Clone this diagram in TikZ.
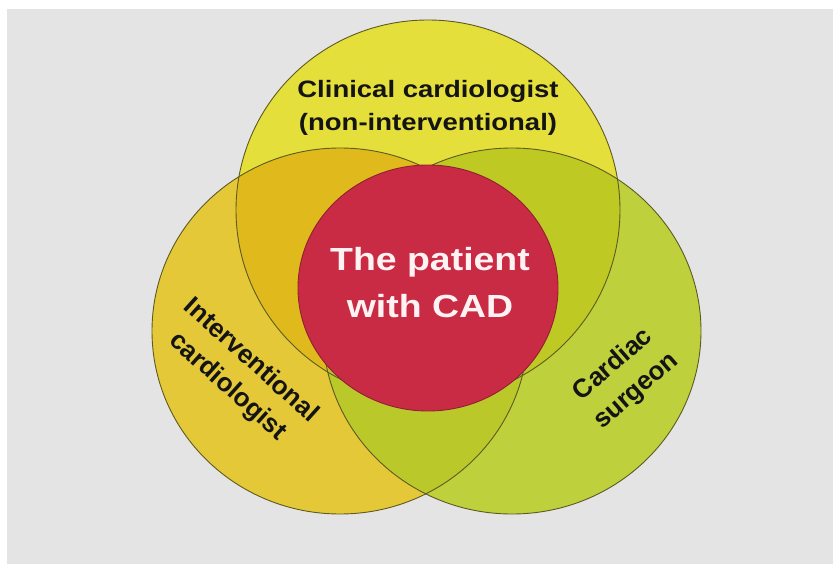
\documentclass[tikz,border=0pt]{standalone}
\usepackage{fontspec}
\setmainfont{Liberation Sans}
\usetikzlibrary{shapes.geometric}

\definecolor{bgGray}{HTML}{E4E4E4}
\definecolor{topYellow}{HTML}{E5DF3C}
\definecolor{leftGold}{HTML}{E4C837}
\definecolor{rightGreen}{HTML}{BED03C}
\definecolor{tlOverlap}{HTML}{E0BA1C}
\definecolor{trOverlap}{HTML}{BEC924}
\definecolor{botOverlap}{HTML}{BAC82A}
\definecolor{patientRed}{HTML}{C92A44}
\definecolor{rimOlive}{HTML}{5E5A22}
\definecolor{rimRed}{HTML}{8E2232}

\tikzset{
  rim/.style={draw=rimOlive, line width=0.9pt},
  label/.style={text=black!92, font=\bfseries, align=center, inner sep=0pt},
}

% ellipse paths shared by fills, clips and outlines
\def\topEll{(428,210) ellipse [x radius=192, y radius=190]}
\def\leftEll{(340,331) ellipse [x radius=188, y radius=183]}
\def\rightEll{(512,331) ellipse [x radius=189, y radius=183]}

\begin{document}
\begin{tikzpicture}[x=1pt,y=-1pt]
  \useasboundingbox (0,0) rectangle (833,564);
  \fill[white] (0,0) rectangle (833,564);
  \fill[bgGray] (7,9) rectangle (833,564);

  % the three specialist fields
  \fill[leftGold] \leftEll;
  \fill[rightGreen] \rightEll;
  \fill[topYellow] \topEll;

  % overlaps
  \begin{scope}
    \clip \topEll;
    \fill[tlOverlap] \leftEll;
  \end{scope}
  \begin{scope}
    \clip \topEll;
    \fill[trOverlap] \rightEll;
  \end{scope}
  \begin{scope}
    \clip \leftEll;
    \fill[botOverlap] \rightEll;
  \end{scope}
  \begin{scope}
    \clip \leftEll;
    \clip \rightEll;
    \fill[botOverlap] \topEll;
  \end{scope}

  % outlines
  \draw[rim] \leftEll;
  \draw[rim] \rightEll;
  \draw[rim] \topEll;

  % the patient at the centre
  \node[ellipse, draw=rimRed, line width=0.9pt, fill=patientRed, inner sep=0pt,
        minimum width=260pt, minimum height=246pt] (patient) at (428,288) {};

  \node[label, text=white!95!red, font=\bfseries\fontsize{32}{47}\selectfont] (ptext) at (430,283)
    {\scalebox{1.17}[1]{The patient}\\\scalebox{1.17}[1]{with CAD}};

  \node[label, font=\bfseries\fontsize{23.7}{33}\selectfont] (clinical) at (428,108)
    {\scalebox{1.16}[1]{Clinical cardiologist}\\\scalebox{1.16}[1]{(non-interventional)}};

  \node[label, rotate=-42, font=\bfseries\fontsize{26}{35}\selectfont] (interv) at (239,374)
    {Interventional\\cardiologist};

  \node[label, rotate=41, font=\bfseries\fontsize{26}{35}\selectfont] (surgeon) at (625,378)
    {Cardiac\\surgeon};
\end{tikzpicture}
\end{document}
